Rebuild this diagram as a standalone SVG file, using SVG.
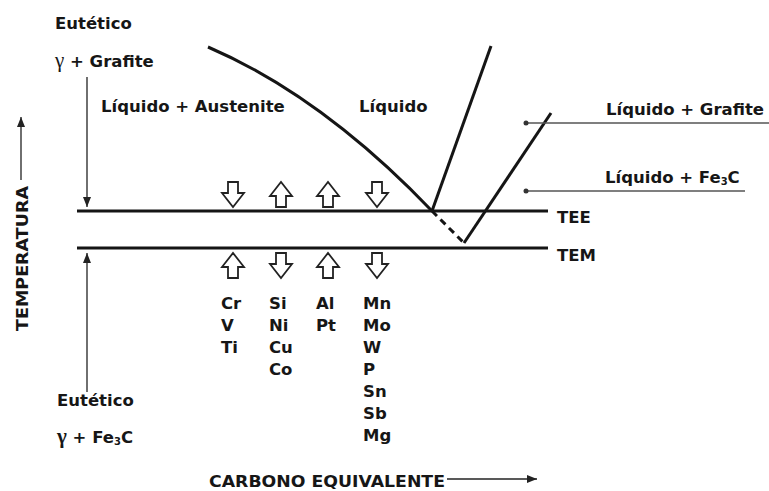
<svg xmlns="http://www.w3.org/2000/svg" width="769" height="491" viewBox="0 0 769 491">
<defs>
<style>
.t{font-family:"DejaVu Sans","Verdana",sans-serif;font-weight:bold;font-size:16.5px;fill:#161616}
.s{font-size:10px}
.g{font-family:"Liberation Serif","Times New Roman",serif;font-size:21px;fill:#161616}
.ln{stroke:#151515;stroke-width:3;fill:none}
.ld{stroke:#555;stroke-width:1.5;fill:none}
.ar{stroke:#222;stroke-width:1.3;fill:none}
.blk{fill:#fff;stroke:#222;stroke-width:1.8;stroke-linejoin:miter}
</style>
<path id="dn" d="M-5,0 H5 V11 H11 L0,25 L-11,11 H-5 Z"/>
<marker id="ah" viewBox="0 0 10 8" refX="10" refY="4" markerWidth="10" markerHeight="8" markerUnits="userSpaceOnUse" orient="auto">
<path d="M0,0 L10,4 L0,8 Z" fill="#222"/>
</marker>
</defs>
<rect width="769" height="491" fill="#fff"/>

<g id="connectors">
<path class="ln" d="M208,47 Q322,96 432,211"/>
<path class="ln" d="M432,211 L491,46"/>
<path class="ln" d="M432,211 L464,243" stroke-dasharray="7,5"/>
<path class="ln" d="M464,243 L551,113"/>
<path class="ar" d="M87,77 V207" marker-end="url(#ah)"/>
<path class="ar" d="M87,392 V253" marker-end="url(#ah)"/>
<path class="ar" d="M21,180 V117" marker-end="url(#ah)"/>
<path class="ar" d="M447,479 H537" marker-end="url(#ah)"/>
<path class="ld" d="M526,123 H769"/>
<path class="ld" d="M526,191 H745"/>
<circle cx="526" cy="123" r="2.5" fill="#333"/>
<circle cx="526" cy="191" r="2.5" fill="#333"/>
</g>

<g id="TEE">
<path class="ln" d="M77,211 H548"/>
<text class="t" x="557" y="223">TEE</text>
</g>
<g id="TEM">
<path class="ln" d="M77,248 H548"/>
<text class="t" x="557" y="261">TEM</text>
</g>

<g id="arrows-top">
<use href="#dn" class="blk" transform="translate(233,182)"/>
<use href="#dn" class="blk" transform="translate(281,207) scale(1,-1)"/>
<use href="#dn" class="blk" transform="translate(328,207) scale(1,-1)"/>
<use href="#dn" class="blk" transform="translate(377,182)"/>
</g>
<g id="arrows-bottom">
<use href="#dn" class="blk" transform="translate(233,278) scale(1,-1)"/>
<use href="#dn" class="blk" transform="translate(281,253)"/>
<use href="#dn" class="blk" transform="translate(328,278) scale(1,-1)"/>
<use href="#dn" class="blk" transform="translate(377,253)"/>
</g>

<g id="eutetico-grafite">
<text class="t" x="55" y="29">Eutético</text>
<text x="55" y="67"><tspan class="g">γ</tspan><tspan class="t"> + Grafite</tspan></text>
</g>
<g id="liquido-austenite"><text class="t" x="101" y="112">Líquido + Austenite</text></g>
<g id="liquido"><text class="t" x="359" y="112">Líquido</text></g>
<g id="liquido-grafite"><text class="t" x="606" y="115">Líquido + Grafite</text></g>
<g id="liquido-fe3c"><text class="t" x="605" y="183">Líquido + Fe<tspan class="s" dy="2">3</tspan><tspan dy="-2">C</tspan></text></g>

<g id="temperatura"><text class="t" transform="translate(28,331) rotate(-90)" textLength="145" lengthAdjust="spacingAndGlyphs">TEMPERATURA</text></g>

<g id="col1">
<text class="t" x="221" y="309">Cr</text>
<text class="t" x="221" y="331">V</text>
<text class="t" x="221" y="353">Ti</text>
</g>
<g id="col2">
<text class="t" x="269" y="309">Si</text>
<text class="t" x="269" y="331">Ni</text>
<text class="t" x="269" y="353">Cu</text>
<text class="t" x="269" y="375">Co</text>
</g>
<g id="col3">
<text class="t" x="316" y="309">Al</text>
<text class="t" x="316" y="331">Pt</text>
</g>
<g id="col4">
<text class="t" x="363" y="309">Mn</text>
<text class="t" x="363" y="331">Mo</text>
<text class="t" x="363" y="353">W</text>
<text class="t" x="363" y="375">P</text>
<text class="t" x="363" y="397">Sn</text>
<text class="t" x="363" y="419">Sb</text>
<text class="t" x="363" y="441">Mg</text>
</g>

<g id="eutetico-fe3c">
<text class="t" x="57" y="406">Eutético</text>
<text class="t" x="57" y="443"><tspan class="g">γ</tspan><tspan> + Fe</tspan><tspan class="s" dy="2">3</tspan><tspan dy="-2">C</tspan></text>
</g>
<g id="carbono"><text class="t" x="209" y="487" textLength="236" lengthAdjust="spacingAndGlyphs">CARBONO EQUIVALENTE</text></g>
</svg>
